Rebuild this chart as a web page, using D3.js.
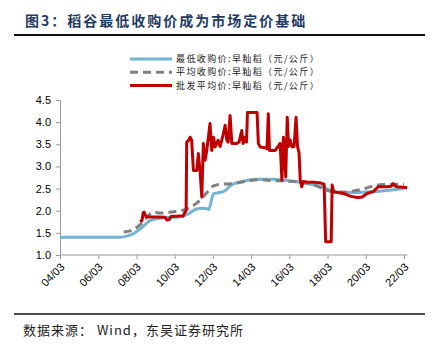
<!DOCTYPE html>
<html>
<head>
<meta charset="utf-8">
<script src="https://cdn.jsdelivr.net/npm/d3@7"></script>
<style>
  body { margin: 0; background: #fff; }
  svg text { font-family: Arial, "Liberation Sans", sans-serif; }
</style>
</head>
<body>
<script>
// decimal years
const minYears = [2004.17, 2007.0, 2007.3, 2007.6, 2008.0, 2008.4, 2008.9, 2009.4, 2009.9, 2010.4, 2010.9, 2011.2, 2011.5, 2011.8, 2011.95, 2012.2, 2012.5, 2012.8, 2013.1, 2013.5, 2014.0, 2014.6, 2015.3, 2015.9, 2016.5, 2017.0, 2017.5, 2018.0, 2018.5, 2019.0, 2019.6, 2020.2, 2020.8, 2021.4, 2022.17];
const minPrice = [1.40, 1.40, 1.40, 1.42, 1.48, 1.60, 1.78, 1.83, 1.85, 1.86, 1.93, 2.02, 2.05, 2.05, 2.03, 2.38, 2.41, 2.45, 2.57, 2.64, 2.69, 2.71, 2.71, 2.69, 2.66, 2.62, 2.58, 2.52, 2.43, 2.41, 2.41, 2.42, 2.44, 2.46, 2.50];

const avgYears = [2007.5, 2007.9, 2008.3, 2008.7, 2009.0, 2009.5, 2010.0, 2010.5, 2011.0, 2011.4, 2011.8, 2012.2, 2012.6, 2013.1, 2013.6, 2014.1, 2014.7, 2015.3, 2016.0, 2016.6, 2017.1, 2017.6, 2018.0, 2018.4, 2019.0, 2019.6, 2020.1, 2020.6, 2021.1, 2021.6, 2022.17];
const avgPrice = [1.52, 1.55, 1.66, 1.84, 1.96, 1.95, 1.97, 2.00, 2.08, 2.20, 2.38, 2.56, 2.60, 2.61, 2.64, 2.68, 2.70, 2.68, 2.67, 2.65, 2.62, 2.56, 2.48, 2.43, 2.42, 2.45, 2.50, 2.56, 2.59, 2.60, 2.60];

const wsYears = [2008.36, 2008.46, 2008.52, 2008.57, 2008.67, 2008.88, 2009.41, 2009.67, 2009.77, 2009.88, 2009.98, 2010.45, 2010.61, 2010.69, 2010.77, 2010.80, 2010.92, 2010.98, 2011.06, 2011.15, 2011.33, 2011.41, 2011.50, 2011.59, 2011.67, 2011.76, 2011.85, 2012.02, 2012.11, 2012.20, 2012.29, 2012.44, 2012.55, 2012.72, 2012.81, 2012.90, 2012.97, 2013.07, 2013.16, 2013.42, 2013.54, 2013.68, 2013.75, 2013.86, 2013.93, 2013.98, 2014.48, 2014.55, 2014.64, 2014.90, 2015.00, 2015.07, 2015.13, 2015.43, 2015.58, 2015.69, 2015.78, 2015.86, 2015.90, 2015.98, 2016.06, 2016.13, 2016.21, 2016.31, 2016.42, 2016.52, 2016.60, 2016.68, 2016.74, 2016.82, 2016.90, 2017.08, 2017.52, 2017.78, 2017.99, 2018.07, 2018.36, 2018.41, 2018.48, 2018.99, 2019.35, 2019.72, 2019.98, 2020.24, 2020.56, 2020.82, 2021.29, 2021.50, 2021.60, 2021.71, 2021.81, 2022.13, 2022.34];
const wsPrice = [1.75, 1.78, 1.95, 1.97, 1.87, 1.86, 1.86, 1.85, 1.79, 1.80, 1.87, 1.88, 1.88, 1.95, 2.00, 3.55, 3.60, 3.66, 3.59, 2.91, 2.91, 3.29, 2.88, 2.31, 3.52, 3.14, 3.36, 3.97, 3.36, 3.66, 3.44, 3.59, 3.45, 3.74, 3.93, 3.59, 3.55, 4.15, 3.52, 3.52, 3.55, 3.81, 3.52, 3.66, 3.55, 4.22, 4.22, 3.52, 3.44, 3.42, 3.40, 4.19, 3.36, 3.36, 3.45, 3.52, 2.69, 3.66, 3.55, 2.76, 4.11, 3.45, 3.60, 3.44, 3.45, 4.11, 3.45, 3.30, 2.69, 2.54, 2.66, 2.65, 2.64, 2.63, 2.60, 1.30, 1.30, 2.58, 2.43, 2.39, 2.33, 2.30, 2.31, 2.39, 2.43, 2.54, 2.54, 2.55, 2.61, 2.56, 2.54, 2.53, 2.52];

const tickYears = [2004.17, 2006.17, 2008.17, 2010.17, 2012.17, 2014.17, 2016.17, 2018.17, 2020.17, 2022.17];
const yTicks = [1.0, 1.5, 2.0, 2.5, 3.0, 3.5, 4.0, 4.5];
const legendNames = ["最低收购价:早籼稻（元/公斤）", "平均收购价:早籼稻（元/公斤）", "批发平均价:早籼稻（元/公斤）"];

const w = 434, h = 351;
const svg = d3.select("body").append("svg").attr("width", w).attr("height", h);

// title + rules
svg.append("text")
  .attr("x", 25).attr("y", 26)
  .attr("fill", "#1f3a5f")
  .style("font-family", "'Noto Sans CJK SC', sans-serif")
  .style("font-weight", "bold")
  .style("font-size", "14px")
  .style("letter-spacing", "2px")
  .text("图3：稻谷最低收购价成为市场定价基础");
svg.append("line").attr("x1", 14).attr("x2", 425).attr("y1", 35).attr("y2", 35)
  .attr("stroke", "#111").attr("stroke-width", 2);
svg.append("line").attr("x1", 14).attr("x2", 425).attr("y1", 314).attr("y2", 314)
  .attr("stroke", "#111").attr("stroke-width", 1.5);
svg.append("text")
  .attr("x", 23).attr("y", 335)
  .attr("fill", "#222")
  .style("font-family", "'Noto Sans CJK SC', sans-serif")
  .style("font-size", "13px")
  .style("letter-spacing", "1px")
  .text("数据来源： Wind，东吴证券研究所");

// scales
const x = d3.scaleLinear().domain([2004.17, 2022.17]).range([60, 404]);
const y = d3.scaleLinear().domain([1.0, 4.5]).range([255, 100]);

// axes
const yAxis = svg.append("g").attr("transform", "translate(60,0)")
  .call(d3.axisLeft(y).tickValues(yTicks).tickFormat(d3.format(".1f")).tickSize(4).tickSizeOuter(0));
yAxis.select(".domain").attr("stroke", "#999");
yAxis.selectAll(".tick line").attr("stroke", "#999");
yAxis.selectAll("text").attr("fill", "#000").style("font-size", "11px").attr("dx", "-2");

const xAxis = svg.append("g").attr("transform", "translate(0,255)")
  .call(d3.axisBottom(x).tickValues(tickYears)
    .tickFormat(d => String(Math.floor(d) % 100).padStart(2, "0") + "/03")
    .tickSize(4).tickSizeOuter(0));
xAxis.select(".domain").attr("d", "M" + x(2004.17) + ",0H" + x(2022.35)).attr("stroke", "#999");
xAxis.selectAll(".tick line").attr("stroke", "#999");
xAxis.selectAll("text")
  .attr("fill", "#000").style("font-size", "11px")
  .attr("text-anchor", "end")
  .attr("x", 0).attr("y", 0).attr("dx", 0)
  .attr("dy", "0.35em")
  .attr("transform", "translate(2,10) rotate(-45)");

// lines
const line = d3.line().x(d => x(d[0])).y(d => y(d[1]));
const smooth = d3.line().x(d => x(d[0])).y(d => y(d[1])).curve(d3.curveMonotoneX);

svg.append("path")
  .datum(d3.zip(minYears, minPrice))
  .attr("d", smooth).attr("fill", "none")
  .attr("stroke", "#74b3d3").attr("stroke-width", 3);

svg.append("path")
  .datum(d3.zip(avgYears, avgPrice))
  .attr("d", smooth).attr("fill", "none")
  .attr("stroke", "#808080").attr("stroke-width", 3)
  .attr("stroke-dasharray", "8,5");

svg.append("path")
  .datum(d3.zip(wsYears, wsPrice))
  .attr("d", line).attr("fill", "none")
  .attr("stroke", "#c00000").attr("stroke-width", 3)
  .attr("stroke-linejoin", "round");

// legend
const legendColors = ["#74b3d3", "#808080", "#c00000"];
const legend = svg.append("g").attr("transform", "translate(130,59)");
legendNames.forEach((name, i) => {
  const g = legend.append("g").attr("transform", "translate(0," + i * 13.3 + ")");
  g.append("line").attr("x1", 0).attr("x2", 42).attr("y1", 0).attr("y2", 0)
    .attr("stroke", legendColors[i]).attr("stroke-width", 3)
    .attr("stroke-dasharray", i === 1 ? "8,5" : null);
  g.append("text").attr("x", 46).attr("y", 0).attr("dy", "0.35em")
    .attr("fill", "#222")
    .style("font-family", "'Noto Sans CJK SC', sans-serif")
    .style("font-size", "9px")
    .style("letter-spacing", "1.4px")
    .text(name);
});
</script>
</body>
</html>
